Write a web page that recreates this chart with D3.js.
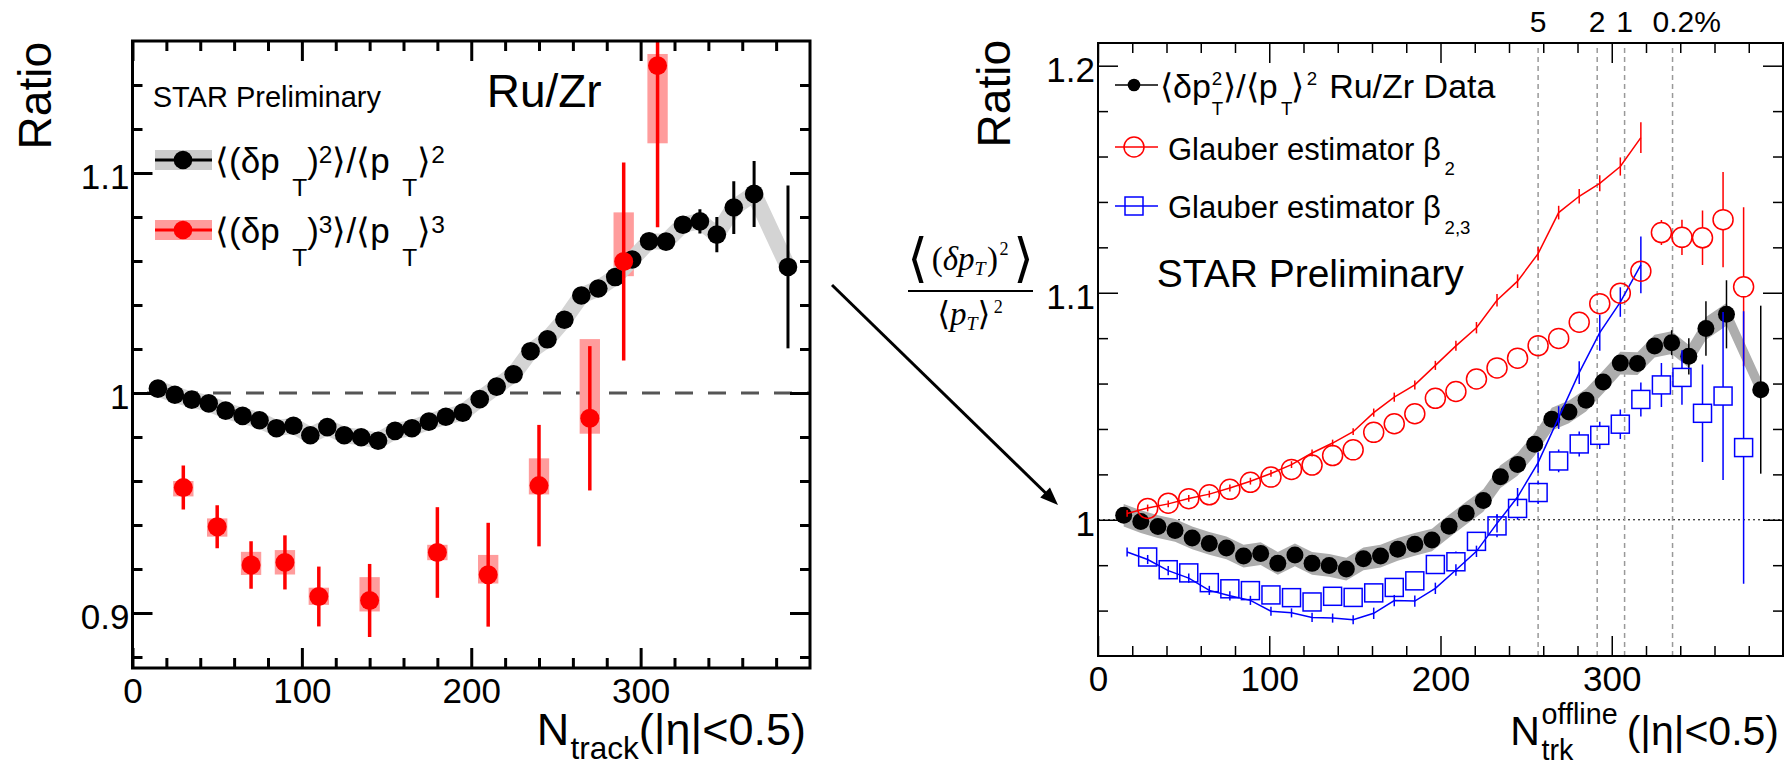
<!DOCTYPE html>
<html>
<head>
<meta charset="utf-8">
<script src="https://cdn.jsdelivr.net/npm/d3@7"></script>
<style>
  body { margin: 0; background: #fff; }
  svg { display: block; font-family: "Liberation Sans", Arial, Helvetica, sans-serif; }
</style>
</head>
<body>
<svg width="1785" height="767"></svg>
<script>
// Ru/Zr ratios of mean-pT fluctuation cumulants vs. multiplicity,
// left: data only, right: data compared with Glauber estimators

// <(dpT)^2>/<pT>^2, Ru/Zr (same points in both panels)
const varNch = [15, 25, 35, 45, 55, 65, 75, 85, 95, 105, 115, 125, 135, 145, 155, 165, 175, 185, 195,
  205, 215, 225, 235, 245, 255, 265, 275, 285, 295, 305, 315, 325, 335, 345, 355, 367, 387];
const varRatio = [1.002, 0.9992, 0.997, 0.9953, 0.992, 0.9896, 0.9876, 0.984, 0.9851, 0.9808, 0.9845,
  0.9808, 0.9799, 0.9783, 0.9828, 0.984, 0.987, 0.9892, 0.9911, 0.9972, 1.0029, 1.0085, 1.019, 1.0244,
  1.0333, 1.0443, 1.0475, 1.0527, 1.0607, 1.069, 1.0688, 1.0765, 1.078, 1.072, 1.0843, 1.0905, 1.0573];
const varStat = [0.001, 0.001, 0.001, 0.001, 0.001, 0.001, 0.001, 0.001, 0.001, 0.001, 0.001, 0.001,
  0.001, 0.001, 0.001, 0.001, 0.0012, 0.0012, 0.0012, 0.0012, 0.0012, 0.0013, 0.0013, 0.0014, 0.0014,
  0.0015, 0.0015, 0.0016, 0.0017, 0.0018, 0.0019, 0.002, 0.0055, 0.008, 0.012, 0.015, 0.037];

// <(dpT)^3>/<pT>^3, Ru/Zr
const skewNch = [30, 50, 70, 90, 110, 140, 180, 210, 240, 270, 290, 310];
const skewRatio = [0.957, 0.9392, 0.9218, 0.923, 0.9075, 0.9057, 0.9275, 0.9174, 0.9579, 0.9885, 1.0598, 1.1488];
const skewStat = [0.010, 0.0098, 0.0108, 0.0123, 0.0136, 0.0166, 0.0206, 0.0236, 0.0276, 0.0328, 0.045, 0.0735];
const skewSysUp = [0.003, 0.0038, 0.006, 0.0056, 0.004, 0.0106, 0.0035, 0.009, 0.0124, 0.036, 0.0223, 0.0053];
const skewSysDown = [0.004, 0.0045, 0.0045, 0.0055, 0.0038, 0.005, 0.0035, 0.004, 0.004, 0.007, 0.0067, 0.0353];

// Glauber estimators, markers
const glauberNch = [29, 41, 53, 65, 77, 89, 101, 113, 125, 137, 149, 161, 173, 185, 197, 209, 221, 233,
  245, 257, 269, 281, 293, 305, 317, 329, 341, 353, 365, 377];
const beta2Ratio = [1.005, 1.0073, 1.0093, 1.011, 1.0134, 1.0165, 1.0188, 1.0222, 1.0241, 1.0283, 1.0308,
  1.0385, 1.0423, 1.0467, 1.0535, 1.0565, 1.062, 1.0669, 1.0712, 1.0767, 1.0799, 1.087, 1.0952, 1.0998,
  1.1095, 1.1265, 1.1244, 1.1242, 1.1322, 1.1026];
const beta2Err = [0.0015, 0.0015, 0.0015, 0.0015, 0.0015, 0.0016, 0.0016, 0.0017, 0.0017, 0.0018, 0.0018,
  0.0019, 0.002, 0.002, 0.0021, 0.0022, 0.0023, 0.0024, 0.0025, 0.0026, 0.0028, 0.003, 0.0032, 0.0035,
  0.0045, 0.0055, 0.0078, 0.012, 0.021, 0.035];
const beta23Ratio = [0.9836, 0.978, 0.9766, 0.9723, 0.9696, 0.9688, 0.9669, 0.9657, 0.9638, 0.9663, 0.9658,
  0.9678, 0.9702, 0.9731, 0.9803, 0.9815, 0.9905, 0.9973, 1.005, 1.012, 1.0259, 1.0334, 1.0372, 1.0421,
  1.053, 1.0594, 1.0627, 1.0469, 1.0545, 1.0318];
const beta23Err = [0.003, 0.003, 0.003, 0.003, 0.003, 0.003, 0.003, 0.003, 0.003, 0.003, 0.003, 0.0032,
  0.0034, 0.0036, 0.004, 0.0045, 0.004, 0.005, 0.005, 0.005, 0.005, 0.0055, 0.006, 0.0065, 0.0075, 0.0097,
  0.012, 0.0215, 0.037, 0.06];

// Glauber estimators, curves
const curveNch = [17, 29, 41, 53, 65, 77, 89, 101, 113, 125, 137, 149, 161, 173, 185, 197, 209, 221, 233,
  245, 257, 269, 281, 293, 305, 317];
const beta2Curve = [1.0028, 1.0052, 1.007, 1.0094, 1.0113, 1.014, 1.017, 1.0204, 1.0243, 1.0294, 1.0338,
  1.0388, 1.0472, 1.054, 1.0594, 1.068, 1.0766, 1.0846, 1.0967, 1.1051, 1.1172, 1.1353, 1.1425, 1.1482,
  1.1556, 1.1683];
const beta2CurveErr = [0.0015, 0.0015, 0.0015, 0.0015, 0.0015, 0.0015, 0.0015, 0.0015, 0.0015, 0.0015,
  0.0015, 0.0015, 0.0018, 0.002, 0.002, 0.002, 0.0022, 0.0025, 0.0028, 0.003, 0.003, 0.003, 0.0032,
  0.0035, 0.004, 0.0068];
const beta23Curve = [0.9858, 0.9825, 0.9776, 0.9743, 0.9689, 0.9665, 0.9645, 0.9597, 0.959, 0.957, 0.9567,
  0.956, 0.9588, 0.9644, 0.9642, 0.9698, 0.9779, 0.9861, 0.9984, 1.01, 1.0252, 1.045, 1.0648, 1.0824,
  1.0959, 1.1123];
const beta23CurveErr = [0.002, 0.002, 0.002, 0.002, 0.002, 0.002, 0.002, 0.002, 0.002, 0.002, 0.002,
  0.002, 0.0025, 0.0025, 0.0025, 0.0025, 0.0025, 0.0025, 0.004, 0.004, 0.0045, 0.005, 0.005, 0.008,
  0.0065, 0.0125];

// centrality boundaries (percent)
const centralityNch = [257, 291.5, 307.5, 335.5];
const centralityLabels = ['5', '2', '1', '0.2%'];

// axis ticks
const xTicks = [0, 100, 200, 300];
const yTicksLeft = [0.9, 1, 1.1];
const yTicksRight = [1, 1.1, 1.2];

const svg = d3.select('svg');
const width = +svg.attr('width');
const height = +svg.attr('height');
svg.append('rect').attr('width', width).attr('height', height).attr('fill', '#fff');

const zip = (xs, ...cols) => xs.map((x, i) => [x, ...cols.map(c => c[i])]);

// scales
const xL = d3.scaleLinear().domain([0, 400]).range([132.5, 810]);
const yL = d3.scaleLinear().domain([0.875, 1.16]).range([668, 41]);
const xR = d3.scaleLinear().domain([0, 400]).range([1098, 1783]);
const yR = d3.scaleLinear().domain([0.94, 1.21]).range([656, 43]);

// text with sub/superscripts, laid out piece by piece
function mathText(parent, x, y, size, parts, opts = {}) {
  const g = parent.append('g').attr('font-family', opts.family || null);
  let cx = 0, held = 0;
  parts.forEach(p => {
    const dx = (p.dx || 0) * size;
    const t = g.append('text')
      .attr('x', cx + dx)
      .attr('y', (p.dy || 0) * size)
      .attr('font-size', size * (p.s || 1))
      .attr('font-style', p.it ? 'italic' : null)
      .text(p.t);
    const w = dx + t.node().getComputedTextLength();
    if (p.stack) { held = w; return; }
    cx += Math.max(w, held);
    held = 0;
  });
  const shift = opts.anchor === 'end' ? cx : opts.anchor === 'middle' ? cx / 2 : 0;
  g.attr('transform', 'translate(' + (x - shift) + ',' + y + ')');
  return g;
}

// ROOT-style frame with inward ticks on all four sides
function frame(g, x, y, o) {
  const [xa, xb] = x.range();
  const [ya, yb] = y.range();
  const [lo, hi] = y.domain();
  const xMinor = d3.range(20, 400, 20).filter(v => v % 100);
  const yMinor = d3.range(Math.ceil(lo * 50 - 1e-6), Math.floor(hi * 50 + 1e-6) + 1)
    .map(i => i / 50)
    .filter(v => v > lo + 1e-6 && v < hi - 1e-6 && !o.yTicks.some(t => Math.abs(t - v) < 1e-6));

  const sides = [
    [d3.axisBottom, x, 'translate(0,' + ya + ')', xMinor, o.xTicks, true],
    [d3.axisTop, x, 'translate(0,' + yb + ')', xMinor, o.xTicks, false],
    [d3.axisLeft, y, 'translate(' + xa + ',0)', yMinor, o.yTicks, true],
    [d3.axisRight, y, 'translate(' + xb + ',0)', yMinor, o.yTicks, false]
  ];
  sides.forEach(([mk, scale, tr, minor, major, labelled]) => {
    const ax = g.append('g').attr('transform', tr);
    ax.append('g').call(mk(scale).tickValues(minor).tickSize(-o.minorLen).tickFormat(''));
    const maj = ax.append('g').call(mk(scale).tickValues(major).tickSize(-o.majorLen)
      .tickPadding(mk === d3.axisBottom ? 10 : 3)
      .tickFormat(labelled ? d => String(d) : ''));
    ax.selectAll('.domain').remove();
    ax.selectAll('line').attr('stroke', '#000').attr('stroke-width', o.tickWidth);
    ax.selectAll('g').attr('font-family', null).attr('font-size', o.fontSize);
    if (mk === d3.axisLeft) maj.selectAll('text').attr('dy', '0.45em');
  });

  g.append('rect')
    .attr('x', xa).attr('y', yb)
    .attr('width', xb - xa).attr('height', ya - yb)
    .attr('fill', 'none').attr('stroke', '#000').attr('stroke-width', o.frameWidth);
}

function clip(id, x, y) {
  svg.append('clipPath').attr('id', id).append('rect')
    .attr('x', x.range()[0]).attr('y', y.range()[1])
    .attr('width', x.range()[1] - x.range()[0])
    .attr('height', y.range()[0] - y.range()[1]);
}
clip('clipL', xL, yL);
clip('clipR', xR, yR);

const varData = zip(varNch, varRatio, varStat);
const skewData = zip(skewNch, skewRatio, skewStat, skewSysUp, skewSysDown);

// ---------------- left panel ----------------
const gL = svg.append('g');
const plotL = gL.append('g').attr('clip-path', 'url(#clipL)');

plotL.append('line')
  .attr('x1', xL(0)).attr('x2', xL(400)).attr('y1', yL(1)).attr('y2', yL(1))
  .attr('stroke', '#555').attr('stroke-width', 3)
  .attr('stroke-dasharray', '18,15').attr('stroke-dashoffset', 18.5);

// systematic boxes for the third cumulant
plotL.selectAll('rect.sys').data(skewData).join('rect')
  .attr('class', 'sys')
  .attr('x', d => xL(d[0] - 6))
  .attr('width', d => xL(d[0] + 6) - xL(d[0] - 6))
  .attr('y', d => yL(d[1] + d[3]))
  .attr('height', d => yL(d[1] - d[4]) - yL(d[1] + d[3]))
  .attr('fill', '#ff9c9c');

// systematic band for the variance
plotL.append('path').datum(varData)
  .attr('d', d3.line().x(d => xL(d[0])).y(d => yL(d[1])))
  .attr('fill', 'none').attr('stroke', '#d4d4d4')
  .attr('stroke-width', 16).attr('stroke-linejoin', 'round');

plotL.selectAll('line.vstat').data(varData).join('line')
  .attr('x1', d => xL(d[0])).attr('x2', d => xL(d[0]))
  .attr('y1', d => yL(d[1] - d[2])).attr('y2', d => yL(d[1] + d[2]))
  .attr('stroke', '#000').attr('stroke-width', 3);

plotL.selectAll('circle.var').data(varData).join('circle')
  .attr('cx', d => xL(d[0])).attr('cy', d => yL(d[1])).attr('r', 9.3)
  .attr('fill', '#000');

plotL.selectAll('line.sstat').data(skewData).join('line')
  .attr('x1', d => xL(d[0])).attr('x2', d => xL(d[0]))
  .attr('y1', d => yL(d[1] - d[2])).attr('y2', d => yL(d[1] + d[2]))
  .attr('stroke', '#f00').attr('stroke-width', 3.5);

plotL.selectAll('circle.skew').data(skewData).join('circle')
  .attr('cx', d => xL(d[0])).attr('cy', d => yL(d[1])).attr('r', 9.5)
  .attr('fill', '#f00');

frame(gL, xL, yL, {
  xTicks: xTicks, yTicks: yTicksLeft, minorLen: 10, majorLen: 20,
  tickWidth: 3, frameWidth: 3, fontSize: 35
});

// left legend
const legL = gL.append('g');
legL.append('text').attr('x', 152.7).attr('y', 107).attr('font-size', 29).text('STAR Preliminary');
legL.append('text').attr('x', 486.7).attr('y', 107).attr('font-size', 46).text('Ru/Zr');

[[160, '#cccccc', '#000'], [230, '#ff9c9c', '#f00']].forEach(([yy, band, col]) => {
  legL.append('rect').attr('x', 155).attr('y', yy - 10).attr('width', 57).attr('height', 20).attr('fill', band);
  legL.append('line').attr('x1', 155).attr('x2', 212).attr('y1', yy).attr('y2', yy)
    .attr('stroke', col).attr('stroke-width', 3);
  legL.append('circle').attr('cx', 183).attr('cy', yy).attr('r', 9.3).attr('fill', col);
});
['2', '3'].forEach((k, i) => {
  mathText(legL, 215, 173 + 70 * i, 35, [
    {t: '⟨(δp'}, {t: 'T', s: 0.7, dy: 0.66, dx: 0.36}, {t: ')'}, {t: k, s: 0.7, dy: -0.28},
    {t: '⟩/⟨p'}, {t: 'T', s: 0.7, dy: 0.66, dx: 0.36}, {t: '⟩'}, {t: k, s: 0.7, dy: -0.3}
  ]);
});

// axis titles
gL.append('text')
  .attr('transform', 'translate(51,42) rotate(-90)')
  .attr('text-anchor', 'end').attr('font-size', 46).text('Ratio');
mathText(gL, 806, 745, 45, [
  {t: 'N'}, {t: 'track', s: 0.7, dy: 0.3, dx: 0.03}, {t: '(|η|<0.5)'}
], {anchor: 'end'});

// ---------------- arrow and observable ----------------
const arrow = {from: [832, 285], to: [1058, 505]};
{
  const [x0, y0] = arrow.from, [x1, y1] = arrow.to;
  const len = Math.hypot(x1 - x0, y1 - y0);
  const ux = (x1 - x0) / len, uy = (y1 - y0) / len;
  const hl = 18, hw = 7;
  svg.append('line')
    .attr('x1', x0).attr('y1', y0).attr('x2', x1 - ux * hl * 0.8).attr('y2', y1 - uy * hl * 0.8)
    .attr('stroke', '#000').attr('stroke-width', 3);
  svg.append('path')
    .attr('d', d3.line()([[x1, y1],
      [x1 - ux * hl - uy * hw, y1 - uy * hl + ux * hw],
      [x1 - ux * hl + uy * hw, y1 - uy * hl - ux * hw]]) + 'Z')
    .attr('fill', '#000');
}

const serif = '"Liberation Serif", "DejaVu Serif", serif';
const frac = svg.append('g');
mathText(frac, 970.5, 270, 33, [
  {t: '⟨', s: 1.6, dy: 0.18}, {t: '(', dx: 0.12}, {t: 'δp', it: true},
  {t: 'T', s: 0.6, dy: 0.16, it: true}, {t: ')', dx: 0.04}, {t: '2', s: 0.55, dy: -0.45, dx: 0.05},
  {t: '⟩', s: 1.6, dy: 0.18, dx: 0.14}
], {anchor: 'middle', family: serif});
frac.append('line').attr('x1', 908).attr('x2', 1033).attr('y1', 291).attr('y2', 291)
  .attr('stroke', '#000').attr('stroke-width', 2);
mathText(frac, 970, 325, 33, [
  {t: '⟨'}, {t: 'p', it: true}, {t: 'T', s: 0.6, dy: 0.16, it: true}, {t: '⟩'},
  {t: '2', s: 0.55, dy: -0.35, dx: 0.1}
], {anchor: 'middle', family: serif});

// ---------------- right panel ----------------
const gR = svg.append('g');
const plotR = gR.append('g').attr('clip-path', 'url(#clipR)');

plotR.append('line')
  .attr('x1', xR(0)).attr('x2', xR(400)).attr('y1', yR(1)).attr('y2', yR(1))
  .attr('stroke', '#000').attr('stroke-width', 1).attr('stroke-dasharray', '2,3');

plotR.selectAll('line.cent').data(centralityNch).join('line')
  .attr('x1', d => xR(d)).attr('x2', d => xR(d))
  .attr('y1', yR.range()[0]).attr('y2', yR.range()[1])
  .attr('stroke', '#999').attr('stroke-width', 1.5).attr('stroke-dasharray', '5,4');

gR.selectAll('text.cent').data(centralityNch).join('text')
  .attr('x', (d, i) => xR(d) - (i === 3 ? 20 : 0))
  .attr('y', 32)
  .attr('text-anchor', (d, i) => i === 3 ? 'start' : 'middle')
  .attr('font-size', 30)
  .text((d, i) => centralityLabels[i]);

// systematic band
plotR.append('path').datum(varData)
  .attr('d', d3.area().x(d => xR(d[0])).y0(d => yR(d[1] - 0.005)).y1(d => yR(d[1] + 0.005)))
  .attr('fill', '#adadad');

plotR.selectAll('line.vstat').data(varData).join('line')
  .attr('x1', d => xR(d[0])).attr('x2', d => xR(d[0]))
  .attr('y1', d => yR(d[1] - d[2])).attr('y2', d => yR(d[1] + d[2]))
  .attr('stroke', '#000').attr('stroke-width', 1.5);

plotR.selectAll('circle.var').data(varData).join('circle')
  .attr('cx', d => xR(d[0])).attr('cy', d => yR(d[1])).attr('r', 8.5)
  .attr('fill', '#000');

// Glauber curves with their uncertainties
[[beta2Curve, beta2CurveErr, '#f00'], [beta23Curve, beta23CurveErr, '#00f']].forEach(([vals, errs, col]) => {
  const pts = zip(curveNch, vals, errs);
  plotR.append('path').datum(pts)
    .attr('d', d3.line().x(d => xR(d[0])).y(d => yR(d[1])))
    .attr('fill', 'none').attr('stroke', col).attr('stroke-width', 1.5);
  plotR.append('g').selectAll('line').data(pts).join('line')
    .attr('x1', d => xR(d[0])).attr('x2', d => xR(d[0]))
    .attr('y1', d => yR(d[1] - d[2])).attr('y2', d => yR(d[1] + d[2]))
    .attr('stroke', col).attr('stroke-width', 1.5);
});

// Glauber markers: error bars outside the open marker only
function openMarkers(vals, errs, col, half, shape) {
  const pts = zip(glauberNch, vals, errs);
  const g = plotR.append('g');
  g.selectAll('path.err').data(pts).join('path')
    .attr('d', d => {
      const cx = xR(d[0]), cy = yR(d[1]);
      const up = yR(d[1] + d[2]), dn = yR(d[1] - d[2]);
      let s = '';
      if (cy - up > half) s += 'M' + cx + ',' + up + 'V' + (cy - half);
      if (dn - cy > half) s += 'M' + cx + ',' + (cy + half) + 'V' + dn;
      return s || null;
    })
    .attr('stroke', col).attr('stroke-width', 1.5).attr('fill', 'none');
  if (shape === 'circle') {
    g.selectAll('circle').data(pts).join('circle')
      .attr('cx', d => xR(d[0])).attr('cy', d => yR(d[1])).attr('r', half)
      .attr('fill', 'none').attr('stroke', col).attr('stroke-width', 1.5);
  } else {
    g.selectAll('rect').data(pts).join('rect')
      .attr('x', d => xR(d[0]) - half).attr('y', d => yR(d[1]) - half)
      .attr('width', 2 * half).attr('height', 2 * half)
      .attr('fill', 'none').attr('stroke', col).attr('stroke-width', 1.5);
  }
}
openMarkers(beta2Ratio, beta2Err, '#f00', 10, 'circle');
openMarkers(beta23Ratio, beta23Err, '#00f', 9, 'square');

frame(gR, xR, yR, {
  xTicks: xTicks, yTicks: yTicksRight, minorLen: 10, majorLen: 20,
  tickWidth: 1.5, frameWidth: 2, fontSize: 35
});

// right legend
const legR = gR.append('g');
const legRows = [85, 147, 206];
legRows.forEach((yy, i) => {
  const col = ['#000', '#f00', '#00f'][i];
  legR.append('line').attr('x1', 1115).attr('x2', 1158).attr('y1', yy).attr('y2', yy)
    .attr('stroke', col).attr('stroke-width', 1.5);
});
legR.append('circle').attr('cx', 1134).attr('cy', legRows[0]).attr('r', 6.3).attr('fill', '#000');
legR.append('circle').attr('cx', 1134).attr('cy', legRows[1]).attr('r', 10)
  .attr('fill', 'none').attr('stroke', '#f00').attr('stroke-width', 1.5);
legR.append('rect').attr('x', 1134 - 9).attr('y', legRows[2] - 9).attr('width', 18).attr('height', 18)
  .attr('fill', 'none').attr('stroke', '#00f').attr('stroke-width', 1.5);

mathText(legR, 1160, 98, 34, [
  {t: '⟨δp'}, {t: '2', s: 0.55, dy: -0.38, dx: 0.03, stack: true}, {t: 'T', s: 0.55, dy: 0.5, dx: 0.03},
  {t: '⟩/⟨p'}, {t: 'T', s: 0.55, dy: 0.5, dx: 0.1}, {t: '⟩', dx: -0.04}, {t: '2', s: 0.55, dy: -0.38, dx: 0.08},
  {t: 'Ru/Zr Data', dx: 0.35}
]);
mathText(legR, 1168, 160, 31, [{t: 'Glauber estimator β'}, {t: '2', s: 0.6, dy: 0.48, dx: 0.12}]);
mathText(legR, 1168, 218, 31, [{t: 'Glauber estimator β'}, {t: '2,3', s: 0.6, dy: 0.5, dx: 0.12}]);
legR.append('text').attr('x', 1156.7).attr('y', 286.7).attr('font-size', 39).text('STAR Preliminary');

gR.append('text')
  .attr('transform', 'translate(1010,40) rotate(-90)')
  .attr('text-anchor', 'end').attr('font-size', 46).text('Ratio');
mathText(gR, 1779, 745, 41, [
  {t: 'N'}, {t: 'offline', s: 0.7, dy: -0.51, dx: 0.04, stack: true}, {t: 'trk', s: 0.7, dy: 0.36, dx: 0.04},
  {t: '(|η|<0.5)', dx: 0.22}
], {anchor: 'end'});
</script>
</body>
</html>
